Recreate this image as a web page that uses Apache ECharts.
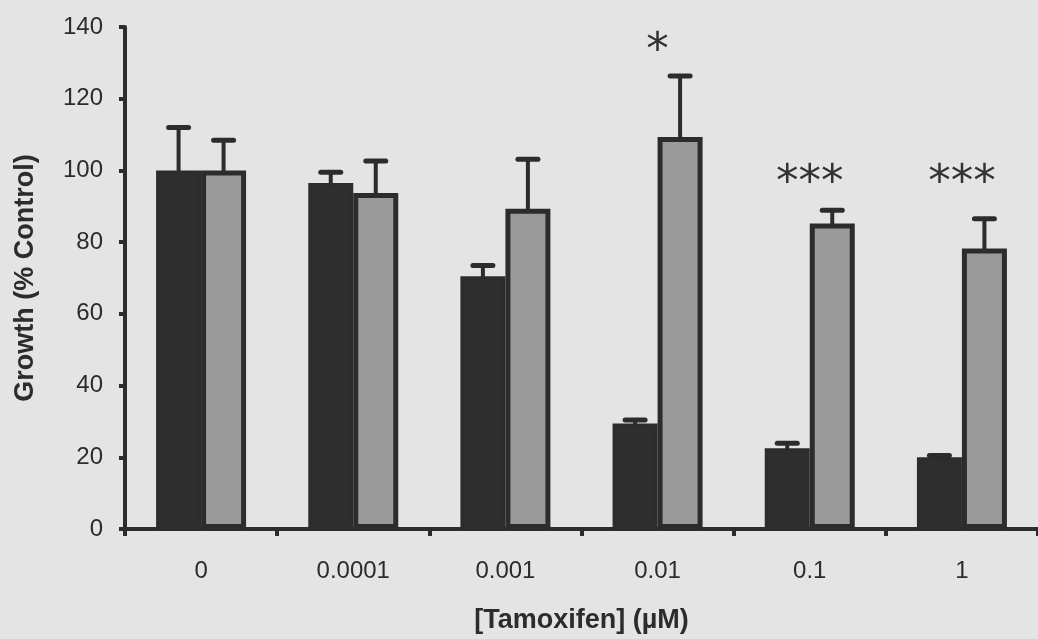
<!DOCTYPE html>
<html>
<head>
<meta charset="utf-8">
<script src="https://cdn.jsdelivr.net/npm/echarts@6/dist/echarts.min.js"></script>
<style>html,body{margin:0;padding:0;background:#e4e4e4;}#c{width:1038px;height:639px;}</style>
</head>
<body>
<div id="c"></div>
<script>
var categories = ['0', '0.0001', '0.001', '0.01', '0.1', '1'];
var blackValues = [100, 96.5, 70.5, 29.4, 22.5, 20];
var blackErr = [12, 3, 3, 1, 1.4, 0.5];
var grayValues = [100, 93.7, 89.3, 109.3, 85.2, 78.2];
var grayErr = [8.4, 8.9, 13.8, 17, 3.7, 8.3];
var starCats = [3, 4, 5];
var starValues = [135.7, 99, 99];
var starLabels = ['*', '***', '***'];
var yTicks = [0, 20, 40, 60, 80, 100, 120, 140];

var BAR_W = 45;
var INK = '#2c2c2c';

function errData(vals, errs) {
  return vals.map(function (v, i) { return [i, v, v + errs[i]]; });
}
function errSeries(vals, errs, offset) {
  return {
    type: 'custom',
    z: 5,
    data: errData(vals, errs),
    renderItem: function (params, api) {
      var base = api.coord([api.value(0), api.value(1)]);
      var top = api.coord([api.value(0), api.value(2)]);
      var x = base[0] + offset;
      var st = { stroke: INK, lineWidth: 4, lineCap: 'round' };
      return {
        type: 'group',
        children: [
          { type: 'line', shape: { x1: x, y1: base[1], x2: x, y2: top[1] }, style: st },
          { type: 'line', shape: { x1: x - 10, y1: top[1], x2: x + 10, y2: top[1] }, style: { stroke: INK, lineWidth: 5, lineCap: 'round' } }
        ]
      };
    }
  };
}

var chart = echarts.init(document.getElementById('c'));
chart.setOption({
  backgroundColor: '#e4e4e4',
  animation: false,
  grid: { left: 125, right: -5, top: 27, bottom: 110, containLabel: false },
  xAxis: {
    type: 'category',
    data: categories,
    name: '[Tamoxifen] (\u00b5M)',
    nameLocation: 'middle',
    nameGap: 78,
    nameTextStyle: { fontFamily: 'Liberation Sans, Arial', fontSize: 27, fontWeight: 'bold', color: INK },
    axisLine: { lineStyle: { color: INK, width: 4 } },
    axisTick: { show: true, length: 7, lineStyle: { color: INK, width: 4 } },
    axisLabel: { margin: 30, fontFamily: 'Liberation Sans, Arial', fontSize: 24, color: INK }
  },
  yAxis: {
    type: 'value',
    min: 0,
    max: 140,
    interval: 20,
    name: 'Growth (% Control)',
    nameLocation: 'middle',
    nameGap: 86,
    nameRotate: 90,
    nameTextStyle: { fontFamily: 'Liberation Sans, Arial', fontSize: 27, fontWeight: 'bold', color: INK },
    axisLine: { show: true, lineStyle: { color: INK, width: 4 } },
    axisTick: { show: true, length: 6, lineStyle: { color: INK, width: 4 } },
    axisLabel: {
      margin: 22, fontFamily: 'Liberation Sans, Arial', fontSize: 24, color: INK,
      formatter: function (v) { return yTicks.indexOf(v) >= 0 ? String(v) : ''; }
    },
    splitLine: { show: false }
  },
  series: [
    {
      type: 'bar',
      data: blackValues,
      barWidth: BAR_W,
      barGap: '0%',
      itemStyle: { color: '#2e2e2e', borderColor: INK, borderWidth: 3 },
      z: 3
    },
    {
      type: 'bar',
      data: grayValues,
      barWidth: BAR_W,
      barGap: '0%',
      itemStyle: { color: '#9a9a9a', borderColor: INK, borderWidth: 5 },
      z: 3
    },
    errSeries(blackValues, blackErr, -BAR_W / 2),
    errSeries(grayValues, grayErr, BAR_W / 2),
    {
      type: 'custom',
      z: 6,
      data: starCats.map(function (c, i) { return [c, starValues[i], starLabels[i]]; }),
      renderItem: function (params, api) {
        var p = api.coord([api.value(0), api.value(1)]);
        var idx = params.dataIndex;
        return {
          type: 'text',
          style: {
            text: starLabels[idx],
            x: p[0], y: p[1] + 10,
            align: 'center', verticalAlign: 'middle',
            fontFamily: 'DejaVu Sans', fontSize: 45, fill: '#333'
          }
        };
      }
    }
  ]
});
</script>
</body>
</html>
